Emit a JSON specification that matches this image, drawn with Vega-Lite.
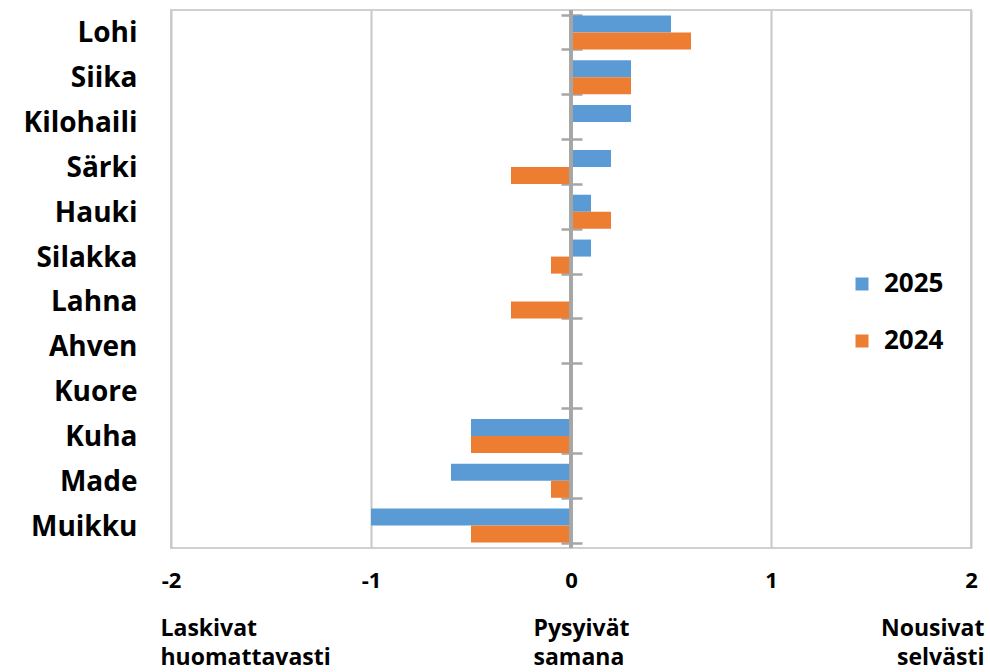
{
  "$schema": "https://vega.github.io/schema/vega-lite/v6.json",
  "width": 800,
  "height": 538,
  "autosize": "none",
  "padding": {"left": 171, "top": 10, "right": 19, "bottom": 124},
  "config": {
    "font": "Open Sans",
    "view": {"stroke": "#d0d0d0", "strokeWidth": 2}
  },
  "data": {
    "values": [
      {"laji": "Lohi", "vuosi": "2025", "arvo": 0.5},
      {"laji": "Lohi", "vuosi": "2024", "arvo": 0.6},
      {"laji": "Siika", "vuosi": "2025", "arvo": 0.3},
      {"laji": "Siika", "vuosi": "2024", "arvo": 0.3},
      {"laji": "Kilohaili", "vuosi": "2025", "arvo": 0.3},
      {"laji": "Kilohaili", "vuosi": "2024", "arvo": 0},
      {"laji": "Särki", "vuosi": "2025", "arvo": 0.2},
      {"laji": "Särki", "vuosi": "2024", "arvo": -0.3},
      {"laji": "Hauki", "vuosi": "2025", "arvo": 0.1},
      {"laji": "Hauki", "vuosi": "2024", "arvo": 0.2},
      {"laji": "Silakka", "vuosi": "2025", "arvo": 0.1},
      {"laji": "Silakka", "vuosi": "2024", "arvo": -0.1},
      {"laji": "Lahna", "vuosi": "2025", "arvo": 0},
      {"laji": "Lahna", "vuosi": "2024", "arvo": -0.3},
      {"laji": "Ahven", "vuosi": "2025", "arvo": 0},
      {"laji": "Ahven", "vuosi": "2024", "arvo": 0},
      {"laji": "Kuore", "vuosi": "2025", "arvo": 0},
      {"laji": "Kuore", "vuosi": "2024", "arvo": 0},
      {"laji": "Kuha", "vuosi": "2025", "arvo": -0.5},
      {"laji": "Kuha", "vuosi": "2024", "arvo": -0.5},
      {"laji": "Made", "vuosi": "2025", "arvo": -0.6},
      {"laji": "Made", "vuosi": "2024", "arvo": -0.1},
      {"laji": "Muikku", "vuosi": "2025", "arvo": -1.0},
      {"laji": "Muikku", "vuosi": "2024", "arvo": -0.5}
    ]
  },
  "layer": [
    {
      "mark": {"type": "bar"},
      "encoding": {
        "y": {
          "field": "laji",
          "type": "nominal",
          "sort": ["Lohi", "Siika", "Kilohaili", "Särki", "Hauki", "Silakka", "Lahna", "Ahven", "Kuore", "Kuha", "Made", "Muikku"],
          "scale": {"paddingInner": 0.24, "paddingOuter": 0.12},
          "axis": {
            "title": null,
            "domain": false,
            "ticks": false,
            "tickSize": 0,
            "labelPadding": 34,
            "labelOffset": 2,
            "labelFont": "Open Sans",
            "labelFontSize": 28,
            "labelFontWeight": "bold",
            "labelColor": "#000000",
            "labelAlign": "right",
            "labelBaseline": "middle"
          }
        },
        "x": {
          "field": "arvo",
          "type": "quantitative",
          "scale": {"domain": [-2, 2], "nice": false},
          "axis": {
            "title": null,
            "values": [-2, -1, 0, 1, 2],
            "labelExpr": "toString(datum.value)",
            "domain": false,
            "ticks": false,
            "tickSize": 0,
            "labelPadding": 22,
            "labelFont": "Open Sans",
            "labelFontSize": 22,
            "labelFontWeight": "bold",
            "labelColor": "#000000",
            "labelBaseline": "top",
            "labelFlush": false,
            "labelBound": false,
            "grid": true,
            "gridColor": "#c8c8c8",
            "gridWidth": 2
          }
        },
        "yOffset": {"field": "vuosi", "type": "nominal", "sort": ["2025", "2024"]},
        "color": {
          "field": "vuosi",
          "type": "nominal",
          "scale": {"domain": ["2025", "2024"], "range": ["#5b9bd5", "#ed7d31"]},
          "legend": {
            "title": null,
            "orient": "none",
            "legendX": 678,
            "legendY": 261,
            "symbolType": "square",
            "symbolSize": 169,
            "symbolStrokeWidth": 0,
            "labelFont": "Open Sans",
            "labelFontSize": 26,
            "labelFontWeight": "bold",
            "labelColor": "#000000",
            "labelOffset": 9,
            "rowPadding": 31
          }
        }
      }
    },
    {
      "mark": {"type": "rule", "color": "#a6a6a6", "strokeWidth": 2.5},
      "encoding": {"x": {"datum": 0, "type": "quantitative", "axis": null}}
    },
    {
      "mark": {"type": "bar", "opacity": 0},
      "encoding": {
        "y": {
          "field": "laji",
          "type": "nominal",
          "sort": ["Lohi", "Siika", "Kilohaili", "Särki", "Hauki", "Silakka", "Lahna", "Ahven", "Kuore", "Kuha", "Made", "Muikku"],
          "axis": {
            "title": null,
            "orient": "right",
            "offset": -410,
            "labels": false,
            "domain": false,
            "ticks": true,
            "tickBand": "extent",
            "tickSize": 21,
            "tickWidth": 2.5,
            "tickColor": "#a6a6a6"
          }
        },
        "x": {
          "field": "arvo",
          "type": "quantitative",
          "axis": {
            "title": null,
            "orient": "bottom",
            "values": [-2, 0, 2],
            "labelExpr": "datum.value == -2 ? ['Laskivat', 'huomattavasti'] : datum.value == 0 ? ['Pysyivät', 'samana'] : ['Nousivat', 'selvästi']",
            "domain": false,
            "ticks": false,
            "tickSize": 0,
            "grid": false,
            "labelPadding": 69,
            "labelLineHeight": 29,
            "labelFont": "Open Sans",
            "labelFontSize": 23,
            "labelFontWeight": "bold",
            "labelColor": "#000000",
            "labelBaseline": "top",
            "labelAlign": {"condition": {"test": "datum.value == 2", "value": "right"}, "value": "left"},
            "labelOffset": {"condition": [{"test": "datum.value == -2", "value": -11}, {"test": "datum.value == 0", "value": -38}], "value": 13},
            "labelOverlap": false,
            "labelBound": false,
            "labelFlush": false
          }
        }
      }
    }
  ],
  "resolve": {"axis": {"x": "independent", "y": "independent"}}
}
